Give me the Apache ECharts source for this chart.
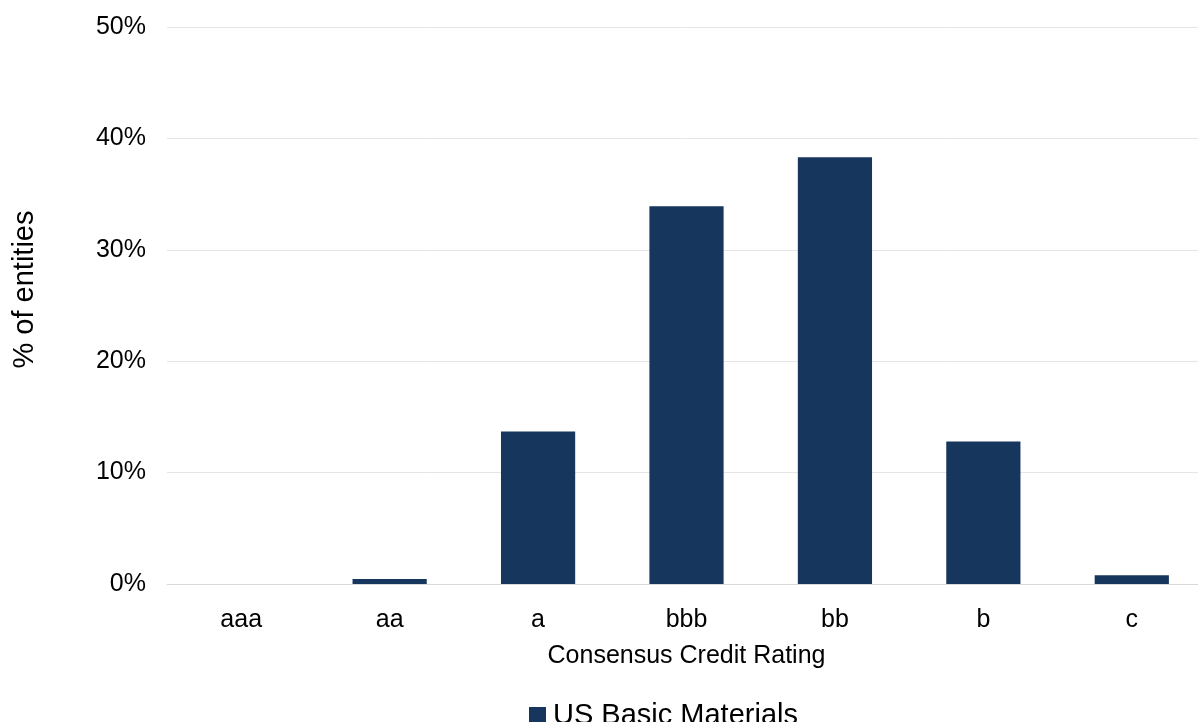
<!DOCTYPE html>
<html>
<head>
<meta charset="utf-8">
<script src="https://cdn.jsdelivr.net/npm/echarts@6/dist/echarts.min.js"></script>
<style>html,body{margin:0;padding:0;background:#fff;overflow:hidden;width:1198px;height:722px}#c{width:1206px;height:722px}</style>
</head>
<body>
<div id="c"></div>
<script>
var categories = ['aaa', 'aa', 'a', 'bbb', 'bb', 'b', 'c'];
var seriesName = 'US Basic Materials';
var values = [0, 0.45, 13.7, 33.9, 38.3, 12.8, 0.78];
var yTicks = [0, 10, 20, 30, 40, 50];

var font = 'Liberation Sans, Arial, sans-serif';
var chart = echarts.init(document.getElementById('c'), null, {renderer: 'canvas'});
chart.setOption({
  animation: false,
  grid: {left: 167, right: 0, top: 27, bottom: 138, containLabel: false},
  legend: {
    bottom: -13, left: 524,
    data: [seriesName],
    icon: 'rect', itemWidth: 17, itemHeight: 17, itemGap: 6,
    textStyle: {fontFamily: font, fontSize: 29, color: '#000', padding: [0, 0, 0, 2]}
  },
  xAxis: {
    type: 'category', data: categories,
    name: 'Consensus Credit Rating', nameLocation: 'middle', nameGap: 60,
    nameTextStyle: {fontFamily: font, fontSize: 25, color: '#000'},
    axisLine: {show: true, lineStyle: {color: '#d9d9d9', width: 1}},
    axisTick: {show: false},
    axisLabel: {fontFamily: font, fontSize: 25, color: '#000', margin: 24}
  },
  yAxis: {
    type: 'value', min: yTicks[0], max: yTicks[yTicks.length - 1], interval: 10,
    name: '% of entities', nameLocation: 'middle', nameGap: 128,
    nameTextStyle: {fontFamily: font, fontSize: 29, color: '#000', padding: [0, 0, 0, 32]},
    axisLine: {show: false}, axisTick: {show: false},
    splitLine: {lineStyle: {color: '#e5e5e5', width: 1}},
    axisLabel: {fontFamily: font, fontSize: 25, color: '#000', margin: 21, formatter: '{value}%'}
  },
  series: [{
    name: seriesName, type: 'bar', data: values,
    barWidth: '50%',
    itemStyle: {color: '#17365d'}
  }]
});
</script>
</body>
</html>
